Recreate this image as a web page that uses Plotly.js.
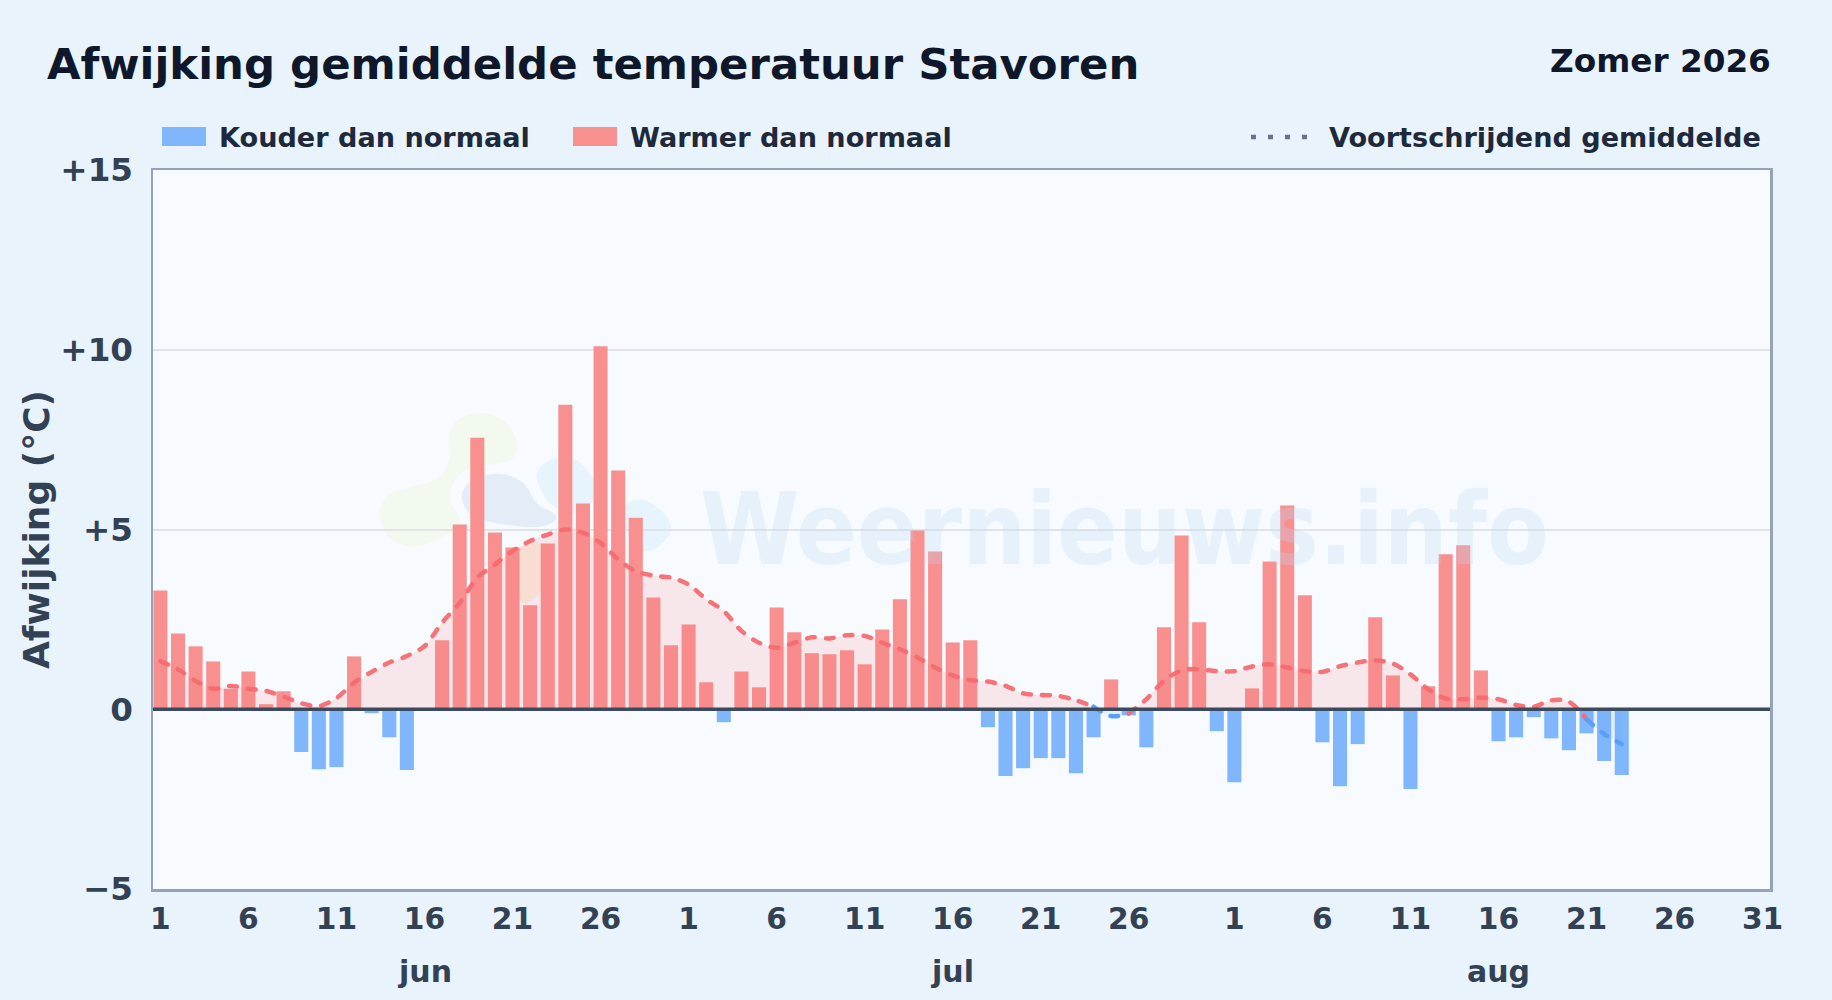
<!DOCTYPE html>
<html><head><meta charset="utf-8">
<script src="https://cdn.plot.ly/plotly-3.0.1.min.js"></script>
<style>html,body{margin:0;padding:0;width:1832px;height:1000px;overflow:hidden;background:#e8f3fc;}#c{width:1832px;height:1000px}
.scatterlayer .js-line{stroke-linecap:round}</style>
</head><body><div id="c"></div>
<script>
// Deviation per day, starting 1 June (index 0)
const juneValues=[3.3,2.11,1.75,1.33,0.57,1.05,0.14,0.5,-1.19,-1.67,-1.61,1.47,-0.11,-0.78,-1.69,0,1.92,5.14,7.55,4.92,4.5,2.89,4.61,8.47,5.72,10.1,6.64,5.33,3.11,1.78];
const julyValues=[2.36,0.75,-0.36,1.05,0.61,2.83,2.14,1.56,1.53,1.64,1.25,2.22,3.06,4.97,4.39,1.86,1.92,-0.5,-1.86,-1.64,-1.36,-1.36,-1.78,-0.78,0.83,-0.17,-1.06,2.28,4.83,2.42,-0.61];
const augustValues=[-2.03,0.58,4.11,5.67,3.17,-0.92,-2.14,-0.97,2.56,0.94,-2.22,0.64,4.31,4.56,1.08,-0.89,-0.78,-0.22,-0.81,-1.14,-0.67,-1.44,-1.83];
// Running mean per day
const juneMean=[1.34,1.11,0.79,0.57,0.65,0.57,0.51,0.35,0.17,0.09,0.31,0.74,1.04,1.3,1.48,1.76,2.41,2.96,3.66,4.03,4.4,4.68,4.86,5.0,4.91,4.63,4.17,3.84,3.72,3.66];
const julyMean=[3.47,3.06,2.73,2.18,1.85,1.71,1.85,2.0,1.97,2.06,2.04,1.85,1.67,1.44,1.16,0.94,0.81,0.77,0.65,0.44,0.4,0.37,0.25,0.07,-0.19,-0.12,0.28,0.79,1.08,1.11,1.06];
const augustMean=[1.06,1.19,1.25,1.16,1.06,1.04,1.2,1.3,1.36,1.27,0.97,0.56,0.3,0.28,0.32,0.28,0.12,0.07,0.25,0.21,-0.28,-0.69,-0.97];
const xTickIndex=[0,5,10,15,20,25,30,35,40,45,50,55,61,66,71,76,81,86,91];
const xTickLabels=['1','6','11','16','21','26','1','6','11','16','21','26','1','6','11','16','21','26','31'];
const yTickValues=[-5,0,5,10,15];
const yTickLabels=['\u22125','0','+5','+10','+15'];
const monthLabels=['jun','jul','aug'];
const monthCentres=[15,45,76];
const FONT='"DejaVu Sans", sans-serif';

const values=[...juneValues,...julyValues,...augustValues];
const mean=[...juneMean,...julyMean,...augustMean];
const idx=values.map((_,i)=>i);
const cold=values.map(v=>v<0?v:null), warm=values.map(v=>v>=0?v:null);

const W=1832,H=1000,L=153,R=1770,T=170,B=889.5;
const fx=x=>(x-L)/(R-L), fy=y=>(B-y)/(B-T);
// smooth closed watermark blob, outline given in a local 3x grid around (360,400)
function blob(points){
  const p=points.map(q=>[fx(360+q[0]/3),fy(400+q[1]/3)]),n=p.length;
  let d='M'+p[0].join(',');
  for(let i=0;i<n;i++){
    const a=p[(i-1+n)%n],b=p[i],c=p[(i+1)%n],e=p[(i+2)%n];
    d+=` C${b[0]+(c[0]-a[0])/6},${b[1]+(c[1]-a[1])/6} ${c[0]-(e[0]-b[0])/6},${c[1]-(e[1]-b[1])/6} ${c[0]},${c[1]}`;
  }
  return d+' Z';
}
const wm=(pts,col,op)=>({type:'path',xref:'paper',yref:'paper',layer:'below',path:blob(pts),fillcolor:col,opacity:op,line:{width:0}});
const shapes=[
 wm([[268,100],[300,55],[375,40],[445,75],[472,140],[450,180],[390,195],[330,205],[285,240],[270,300],[300,370],[240,415],[160,440],[90,415],[60,350],[85,285],[160,260],[225,240],[265,190],[270,140]],'#eef7dd',0.5),
 wm([[480,450],[540,430],[560,500],[545,570],[490,610],[470,530]],'#f6e3c0',0.45),
 wm([[305,290],[340,240],[420,222],[490,250],[530,310],[590,350],[545,380],[440,375],[340,350]],'#d3e4f3',0.6),
 wm([[530,230],[570,180],[640,175],[695,230],[700,300],[640,340],[570,310]],'#dceefb',0.6),
 wm([[790,330],[850,300],[920,350],[930,400],[880,450],[820,440]],'#dceefb',0.6),
 // legend swatches
 {type:'rect',xref:'paper',yref:'paper',x0:fx(162),x1:fx(206),y0:fy(146),y1:fy(127),fillcolor:'#80b6fb',line:{width:0}},
 {type:'rect',xref:'paper',yref:'paper',x0:fx(573),x1:fx(617),y0:fy(146),y1:fy(127),fillcolor:'#f89090',line:{width:0}},
 {type:'line',xref:'paper',yref:'paper',x0:fx(1251),x1:fx(1308),y0:fy(137),y1:fy(137),line:{color:'#64748b',width:4.5,dash:'5px,12px'}},
 // zero line
 {type:'line',xref:'paper',yref:'y',x0:0,x1:1,y0:0,y1:0,layer:'above',line:{color:'#3b4a5f',width:3.5}}
];
const anno=(text,x,y,size,color,xa)=>({text:`<b>${text}</b>`,xref:'paper',yref:'paper',x:fx(x),y:fy(y),xanchor:xa||'left',yanchor:'middle',showarrow:false,font:{family:FONT,size,color}});
const annotations=[
 anno('Afwijking gemiddelde temperatuur Stavoren',45,64,43.4,'#0f172a'),
 anno('Zomer 2026',1773,61,32.7,'#0f172a','right'),
 anno('Kouder dan normaal',217,137,27.1,'#1e293b'),
 anno('Warmer dan normaal',628,137,27.1,'#1e293b'),
 anno('Voortschrijdend gemiddelde',1327,137,27.1,'#1e293b'),
 {text:'<b>Weernieuws.info</b>',xref:'paper',yref:'paper',x:fx(1124),y:fy(530),xanchor:'center',yanchor:'middle',showarrow:false,font:{family:'"DejaVu Sans Condensed", "DejaVu Sans", sans-serif',size:100,color:'rgba(186,214,240,0.28)'}},
 ...monthLabels.map((m,i)=>({text:`<b>${m}</b>`,xref:'x',yref:'paper',x:monthCentres[i],y:fy(972),xanchor:'center',yanchor:'middle',showarrow:false,font:{family:FONT,size:30,color:'#334155'}}))
];
const seg=(a,b,col,fill)=>({type:'scatter',mode:'lines',x:idx.slice(a,b+1),y:mean.slice(a,b+1),fill:'tozeroy',fillcolor:fill,line:{color:col,width:4.5,dash:'8px,11px',shape:'spline',smoothing:0.9},showlegend:false,hoverinfo:'skip'});
const RED='rgba(246,108,112,0.95)',BLUE='rgba(86,160,248,1)',RF='rgba(248,113,113,0.15)',BF='rgba(96,165,250,0.12)';
const traces=[
 {type:'bar',name:'Warmer dan normaal',x:idx,y:warm,width:0.8,marker:{color:'#f89090',line:{width:0}},showlegend:false},
 {type:'bar',name:'Kouder dan normaal',x:idx,y:cold,width:0.8,marker:{color:'#80b6fb',line:{width:0}},showlegend:false},
 seg(0,53,RED,RF),seg(53,55,BLUE,BF),seg(55,81,RED,RF),seg(81,83,BLUE,BF)
];
const layout={width:W,height:H,paper_bgcolor:'rgba(0,0,0,0)',plot_bgcolor:'#f7fbff',barmode:'overlay',
 margin:{l:L,r:W-R,t:T,b:H-B,pad:0},showlegend:false,font:{family:FONT},
 xaxis:{range:[-0.42,91.42],tickmode:'array',tickvals:xTickIndex,ticktext:xTickLabels,ticks:'',showgrid:false,zeroline:false,showline:true,mirror:true,linecolor:'#94a3b8',linewidth:2.5,tickfont:{family:FONT,size:29.7,color:'#334155',weight:700},ticklabelstandoff:2},
 yaxis:{range:[-5,15],tickmode:'array',tickvals:yTickValues,ticktext:yTickLabels,ticks:'',showgrid:true,gridcolor:'#dfe4e8',gridwidth:2,zeroline:false,showline:true,mirror:true,linecolor:'#94a3b8',linewidth:2.5,tickfont:{family:FONT,size:32.6,color:'#334155',weight:700},ticklabelstandoff:11,
  title:{text:'<b>Afwijking (°C)</b>',font:{family:FONT,size:36,color:'#334155'},standoff:0}},
 shapes,annotations};
Plotly.newPlot('c',traces,layout,{staticPlot:true,displayModeBar:false});
</script></body></html>
